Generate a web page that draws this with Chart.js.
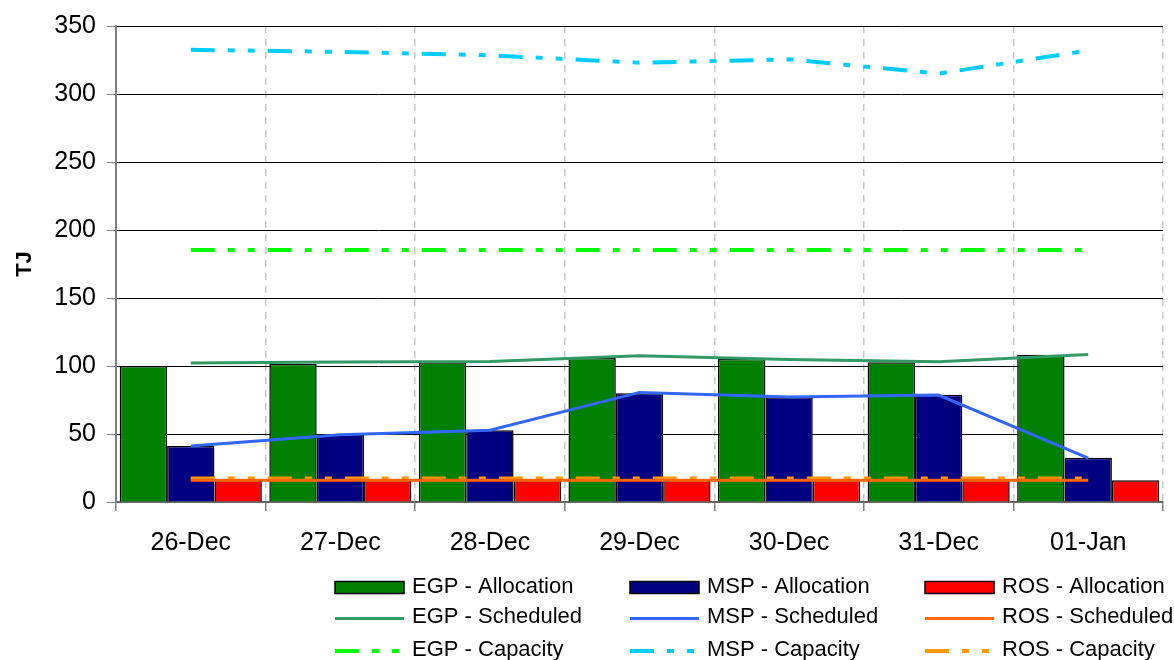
<!DOCTYPE html>
<html><head><meta charset="utf-8">
<script src="https://cdn.jsdelivr.net/npm/chart.js@4.4.1/dist/chart.umd.min.js"></script>
<style>html,body{margin:0;padding:0;background:#fff;}#wrap{width:1174px;height:660px;}</style>
</head><body><div id="wrap"><canvas id="c" width="1174" height="660"></canvas></div>
<script>
const categories = ['26-Dec','27-Dec','28-Dec','29-Dec','30-Dec','31-Dec','01-Jan'];
const egpAllocation = [100, 101.4, 102.7, 105.8, 105.1, 102.7, 108.2];
const mspAllocation = [41.1, 49.6, 52.8, 80, 77.1, 78.8, 32.5];
const rosAllocation = [16, 16, 16, 16, 16, 16, 16];
const egpScheduled = [102.2, 103, 103.3, 107.5, 104.8, 103.2, 108.4];
const mspScheduled = [41.1, 49.5, 52.8, 80.6, 77.2, 78.6, 32.3];
const rosScheduled = [16, 16, 16, 16, 16, 16, 16];
const egpCapacity = [185.3, 185.3, 185.3, 185.3, 185.3, 185.3, 185.3];
const mspCapacity = [332.5, 331, 328.5, 323, 325.5, 315, 332];
const rosCapacity = [17.2, 17.2, 17.2, 17.2, 17.2, 17.2, 17.2];
const yTicks = [0, 50, 100, 150, 200, 250, 300, 350];

const FONT = "'Liberation Sans', Arial, sans-serif";
const capDash = [24, 13, 7, 13, 7, 13];

const legendPlugin = {
  id: 'gridLegend',
  afterDraw(chart) {
    const ctx = chart.ctx;
    const colX = [335, 630, 925];
    const rowY = [587.5, 618.5, 651];
    const baseY = [593, 623, 655.5];
    chart.data.datasets.forEach((ds, i) => {
      const c = i % 3, r = Math.floor(i / 3);
      const x = colX[c], y = rowY[r];
      ctx.save();
      if (ds.type === 'line') {
        ctx.strokeStyle = ds.borderColor;
        ctx.lineWidth = ds.borderWidth;
        ctx.lineCap = 'butt';
        ctx.setLineDash(ds.borderDash || []);
        ctx.beginPath(); ctx.moveTo(x, y); ctx.lineTo(x + 69, y); ctx.stroke();
      } else {
        ctx.fillStyle = ds.backgroundColor;
        ctx.fillRect(x, y - 6, 69, 12);
        ctx.strokeStyle = '#000'; ctx.lineWidth = 1.5;
        ctx.strokeRect(x, y - 6, 69, 12);
      }
      ctx.setLineDash([]);
      ctx.fillStyle = '#000';
      ctx.font = '22px ' + FONT;
      ctx.textBaseline = 'alphabetic';
      ctx.textAlign = 'left';
      ctx.fillText(ds.label, x + 77, baseY[r]);
      ctx.restore();
    });
  }
};

const barDs = (label, data, color) => ({
  type: 'bar', label, data, backgroundColor: color, borderColor: '#000', borderWidth: 1.5,
  categoryPercentage: 0.95, barPercentage: 1, order: 2
});
const lineDs = (label, data, color, width, dash) => ({
  type: 'line', label, data, borderColor: color, backgroundColor: color, borderWidth: width,
  borderDash: dash, pointRadius: 0, pointHoverRadius: 0, tension: 0, fill: false,
  borderCapStyle: 'butt', order: 1
});

new Chart(document.getElementById('c'), {
  type: 'bar',
  data: {
    labels: categories,
    datasets: [
      barDs('EGP - Allocation', egpAllocation, '#008000'),
      barDs('MSP - Allocation', mspAllocation, '#000080'),
      barDs('ROS - Allocation', rosAllocation, '#FF0000'),
      lineDs('EGP - Scheduled', egpScheduled, '#339966', 3, []),
      lineDs('MSP - Scheduled', mspScheduled, '#3366FF', 3, []),
      lineDs('ROS - Scheduled', rosScheduled, '#FF6600', 3, []),
      lineDs('EGP - Capacity', egpCapacity, '#00FF00', 4, capDash),
      lineDs('MSP - Capacity', mspCapacity, '#00CCFF', 4, capDash),
      lineDs('ROS - Capacity', rosCapacity, '#FF9900', 4, capDash)
    ]
  },
  options: {
    responsive: false,
    animation: false,
    devicePixelRatio: 1,
    layout: { padding: { left: 0, right: 11, top: 23, bottom: 98 } },
    plugins: { legend: { display: false }, tooltip: { enabled: false } },
    scales: {
      x: {
        grid: { offset: true, color: '#c8c8c8', lineWidth: 1.5, drawTicks: true, tickLength: 9,
                tickColor: '#808080', tickWidth: 1.5 },
        border: { display: true, color: '#666666', width: 2, dash: [7, 6] },
        ticks: { font: { family: FONT, size: 25 }, color: '#000', padding: 17, autoSkip: false, maxRotation: 0 },
        afterFit: s => { s.height = 60; }
      },
      y: {
        min: 0, max: 350,
        afterBuildTicks: s => { s.ticks = yTicks.map(v => ({ value: v })); },
        ticks: { font: { family: FONT, size: 25 }, color: '#000', padding: 11 },
        grid: { color: '#000', lineWidth: 1, tickLength: 9, tickColor: '#808080' },
        border: { color: '#808080', width: 2 },
        title: { display: true, text: 'TJ', font: { family: FONT, size: 22, weight: 'bold' }, color: '#000',
                 padding: { top: 12, bottom: 0 } },
        afterFit: s => { s.width = 116; }
      }
    }
  },
  plugins: [legendPlugin]
});
</script>
</body></html>
